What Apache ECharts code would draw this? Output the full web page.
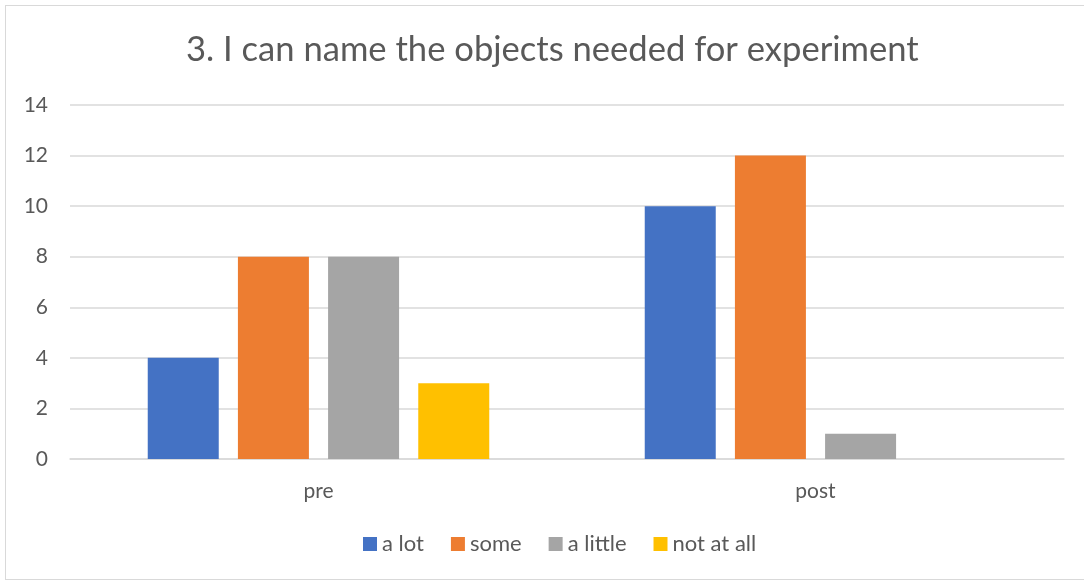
<!DOCTYPE html>
<html><head><meta charset="utf-8">
<script src="https://cdn.jsdelivr.net/npm/echarts@6/dist/echarts.min.js"></script>
<style>html,body{margin:0;padding:0;background:#fff;overflow:hidden;width:1084px;height:583px;}#box{position:absolute;left:5px;top:5px;width:1100px;height:575px;border:1.5px solid #d9d9d9;box-sizing:border-box;}#c{width:1084px;height:583px;position:absolute;left:0;top:0;}</style>
</head><body><div id="box"></div><div id="c"></div>
<script>
const categories = ['pre', 'post'];
const seriesNames = ['a lot', 'some', 'a little', 'not at all'];
const aLot = [4, 10];
const some = [8, 12];
const aLittle = [8, 1];
const notAtAll = [3, 0];
const colors = ['#4472C4', '#ED7D31', '#A5A5A5', '#FFC000'];
const values = [aLot, some, aLittle, notAtAll];
const FONT = 'Lato';
const chart = echarts.init(document.getElementById('c'), null, {renderer: 'canvas'});
chart.setOption({
  animation: false,
  backgroundColor: 'transparent',
  title: {
    text: '3. I can name the objects needed for experiment',
    left: 181, top: 27,
    textStyle: {fontFamily: FONT, fontSize: 34.6, fontWeight: 'normal', color: '#595959'}
  },
  legend: {
    bottom: 23, left: 358,
    itemWidth: 14, itemHeight: 14, itemGap: 27,
    icon: 'rect',
    textStyle: {fontFamily: FONT, fontSize: 22, color: '#595959'},
    data: seriesNames
  },
  grid: {left: 70, right: 20, top: 105, bottom: 124, containLabel: false},
  xAxis: {
    type: 'category', data: categories,
    axisLine: {lineStyle: {color: '#d9d9d9', width: 1.5}},
    axisTick: {show: false},
    axisLabel: {fontFamily: FONT, fontSize: 21, color: '#595959', margin: 22}
  },
  yAxis: {
    type: 'value', min: 0, max: 14, interval: 2,
    axisLine: {show: false}, axisTick: {show: false},
    splitLine: {lineStyle: {color: '#d9d9d9', width: 1.5}},
    axisLabel: {fontFamily: FONT, fontSize: 21, color: '#595959', margin: 22}
  },
  series: seriesNames.map((n, i) => ({
    name: n, type: 'bar', data: values[i],
    barWidth: 71, barGap: '27%',
    itemStyle: {color: colors[i]}
  }))
});
</script></body></html>
